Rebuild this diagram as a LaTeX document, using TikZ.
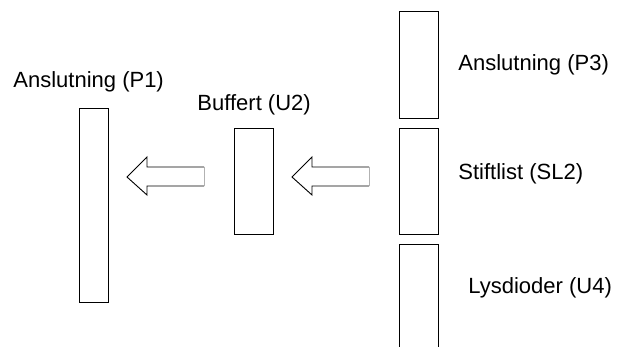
\documentclass[tikz,border=0pt]{standalone}
\usepackage{fontspec}
\setmainfont{Liberation Sans}
\begin{document}
\begin{tikzpicture}[x=1pt,y=-1pt,line width=0.9pt,
  box/.style={draw=black,line width=0.9pt},
  lbl/.style={anchor=base west,inner sep=0pt,font=\fontsize{22}{26}\selectfont},
  blockarrow/.style={draw=black,line width=0.9pt,line join=miter}]
\useasboundingbox (0,0) rectangle (618,347);
% boxes
\draw[box] (79,108) rectangle (108,302);
\coordinate (P1) at (93.5,205);
\draw[box] (234,128) rectangle (273,234);
\coordinate (U2) at (253.5,181);
\draw[box] (399,11) rectangle (438,118);
\draw[box] (399,128) rectangle (438,234);
\coordinate (SL2) at (418.5,181);
\draw[box] (399,347) -- (399,244) -- (438,244) -- (438,347);
% labels
\node[lbl] (tP1) at (13,88) {Anslutning (P1)};
\node[lbl] (tU2) at (197,111) {Buffert (U2)};
\node[lbl] (tP3) at (458,71) {Anslutning (P3)};
\node[lbl] (tSL2) at (458,180) {Stiftlist (SL2)};
\node[lbl] (tU4) at (468,293) {Lysdioder (U4)};
% block arrows
\draw[blockarrow] (204,167) -- (147,167) -- (147,157) -- (127,177) -- (147,195) -- (147,186) -- (204,186);
\draw[gray!60,line width=0.6pt] (204,167) -- (204,186);
\draw[blockarrow] (369,167) -- (312,167) -- (312,157) -- (292,177) -- (312,195) -- (312,186) -- (369,186);
\draw[gray!60,line width=0.6pt] (369,167) -- (369,186);
\end{tikzpicture}
\end{document}
